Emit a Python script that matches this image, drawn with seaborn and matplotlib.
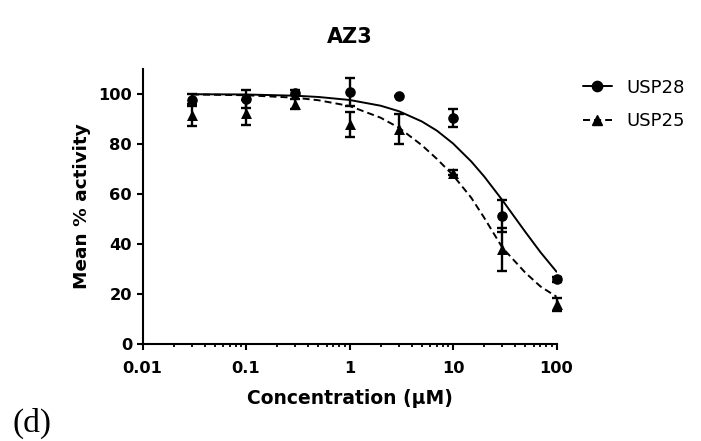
import numpy as np
import matplotlib
matplotlib.use('Agg')
import matplotlib.pyplot as plt
import seaborn as sns
from matplotlib.lines import Line2D
from matplotlib.ticker import LogLocator, NullFormatter

# --- datos ---
conc = [0.03, 0.1, 0.3, 1, 3, 10, 30, 100]
usp28_mean = [97.5, 98.0, 100.4, 100.8, 99.2, 90.4, 51.2, 25.8]
usp28_err = [2.5, 3.5, 1.0, 5.5, 0.0, 3.6, 6.4, 1.0]
usp25_mean = [91.5, 92.5, 95.8, 87.8, 85.8, 68.4, 37.8, 15.8]
usp25_err = [4.5, 5.0, 2.0, 5.0, 6.0, 1.0, 8.5, 2.6]

# curvas ajustadas
curve_x = [0.03, 0.1, 0.3, 0.5, 1, 2, 3, 5, 7, 10, 15, 20, 30, 50, 70, 100]
usp28_fit = [99.9, 99.8, 99.3, 98.8, 97.6, 95.3, 93.1, 89.0, 85.3, 80.2,
             73.0, 67.0, 57.5, 44.8, 36.7, 28.9]
usp25_fit = [99.8, 99.5, 98.5, 97.5, 95.2, 90.5, 86.5, 79.5, 74.0, 67.5,
             58.5, 50.5, 38.5, 28.5, 23.0, 18.9]

xticks = [0.01, 0.1, 1, 10, 100]
xtick_labels = ['0.01', '0.1', '1', '10', '100']
yticks = [0, 20, 40, 60, 80, 100]
series_names = ['USP28', 'USP25']

sns.set_style('ticks')
plt.rcParams['font.family'] = ['DejaVu Sans']
plt.rcParams['text.color'] = 'black'
plt.rcParams['axes.labelcolor'] = 'black'

fig = plt.figure(figsize=(7.01, 4.41), dpi=100)
ax = fig.add_axes([0.2033, 0.22, 0.5906, 0.6236])
ax.set_xscale('log')

# --- curvas ---
sns.lineplot(x=curve_x, y=usp28_fit, ax=ax, color='black', linewidth=1.4, zorder=2)
sns.lineplot(x=curve_x, y=usp25_fit, ax=ax, color='black', linewidth=1.4, zorder=2)
ax.lines[-1].set_dashes([3.6, 2.1])

# --- barras de error ---
ax.errorbar(conc, usp28_mean, yerr=usp28_err, fmt='none', ecolor='black',
            elinewidth=1.7, capsize=3.6, capthick=1.7, zorder=3, clip_on=False)
ax.errorbar(conc, usp25_mean, yerr=usp25_err, fmt='none', ecolor='black',
            elinewidth=1.7, capsize=3.6, capthick=1.7, zorder=3, clip_on=False)

# --- puntos ---
sns.scatterplot(x=conc, y=usp28_mean, ax=ax, marker='o', s=58, color='black',
                linewidth=0, zorder=4, clip_on=False)
sns.scatterplot(x=conc, y=usp25_mean, ax=ax, marker='^', s=62, color='black',
                linewidth=0, zorder=4, clip_on=False)

# --- ejes ---
ax.set_xlim(0.01, 100)
ax.set_ylim(0, 110)
ax.set_xticks(xticks)
ax.set_xticklabels(xtick_labels)
ax.xaxis.set_minor_locator(LogLocator(base=10, subs=np.arange(2, 10)))
ax.xaxis.set_minor_formatter(NullFormatter())
ax.set_yticks(yticks)

for s in ['top', 'right']:
    ax.spines[s].set_visible(False)
for s in ['left', 'bottom']:
    ax.spines[s].set_linewidth(1.5)
    ax.spines[s].set_color('black')

ax.tick_params(axis='both', which='major', direction='out', length=4, width=1.5,
               color='black', labelsize=11.7, labelcolor='black')
ax.tick_params(axis='x', which='major', pad=8.5)
ax.tick_params(axis='y', which='major', pad=3.5)
ax.tick_params(axis='x', which='minor', direction='out', length=2.5, width=1.3, color='black')
for lab in ax.get_xticklabels() + ax.get_yticklabels():
    lab.set_fontweight('bold')

ax.set_xlabel('Concentration (\u03bcM)', fontsize=13.5, fontweight='bold', labelpad=9,
              color='black')
ax.set_ylabel('Mean % activity', fontsize=13.3, fontweight='bold', labelpad=5,
              color='black')
ax.set_title('AZ3', fontsize=15, fontweight='bold', pad=19, color='black')

# --- leyenda ---
handles = [
    Line2D([0], [0], color='black', linewidth=1.4, marker='o', markersize=7.4),
    Line2D([0], [0], color='black', linewidth=1.4, linestyle=(0, (3.6, 2.1)),
           marker='^', markersize=7.6),
]
leg = ax.legend(handles, series_names, loc='upper left', bbox_to_anchor=(1.064, 0.965),
                frameon=False, fontsize=13, handlelength=1.6, handletextpad=0.8,
                labelspacing=0.85, borderpad=0, borderaxespad=0)
for t in leg.get_texts():
    t.set_color('black')

fig.text(12 / 701, 1 - 432 / 441, '(d)', family='Liberation Serif', fontsize=24,
         va='baseline', ha='left', color='black')

fig.savefig('out.png', dpi=100)
